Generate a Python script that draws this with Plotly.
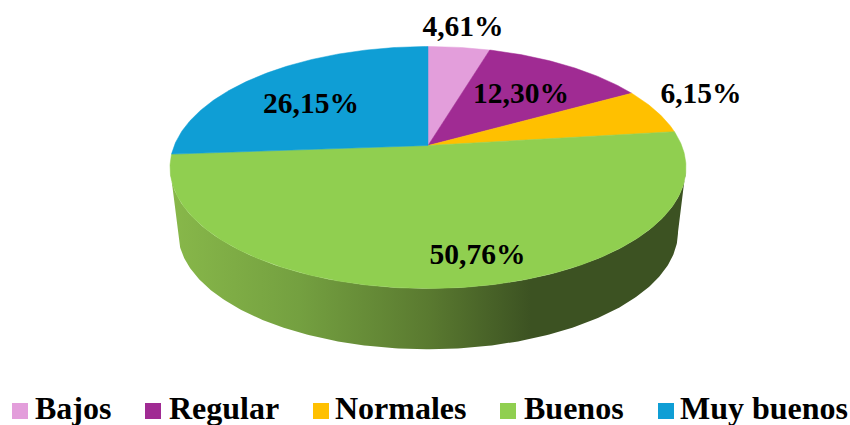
import numpy as np
import plotly.graph_objects as go

categories = ["Bajos", "Regular", "Normales", "Buenos", "Muy buenos"]
values = [4.61, 12.30, 6.15, 50.76, 26.15]
colors = ["#E39EDB", "#A02B93", "#FFC000", "#90CF50", "#0F9ED5"]
label_x = [463, 521, 701, 477.5, 311]
label_y = [29, 96, 96, 257, 105.5]
legend_x = [20, 153, 321, 508, 666]
legend_text_x = [35, 169, 335, 524, 680]

# Projection of the circular pie on to the tilted plane
CX, CY, R, Q, K = 428, 145.5, 253.7, 117, 0.182
RIM_YC, SHRINK, LOW_YC = 167, 0.969, 231.5


def rim(theta):
    d = 1 + K * np.cos(theta)
    return CX + R * np.sin(theta) / d, CY - Q * np.cos(theta) / d


fig = go.Figure()

# Side wall with lighting gradient
th = np.linspace(np.pi / 2 + np.arcsin(K), 3 * np.pi / 2 - np.arcsin(K), 240)
ux, uy = rim(th)
lx = CX + SHRINK * (ux - CX)
ly = LOW_YC + SHRINK * (uy - RIM_YC)
fig.add_trace(go.Scatter(
    x=np.r_[ux, lx[::-1]], y=np.r_[uy, ly[::-1]],
    mode="lines", line=dict(width=0), fill="toself",
    fillgradient=dict(type="horizontal", colorscale=[
        [0.0, "#88B84A"], [0.25, "#74A040"], [0.5, "#5A7A30"],
        [0.70, "#3C5222"], [1.0, "#3C5222"]]),
    hoverinfo="skip", showlegend=False))

# Top face
total = sum(values)
start = 0.0
for name, v, c in zip(categories, values, colors):
    end = start + v / total * 2 * np.pi
    t = np.linspace(start, end, max(4, int(v * 6)))
    x, y = rim(t)
    fig.add_trace(go.Scatter(
        x=np.r_[CX, x, CX], y=np.r_[CY, y, CY], mode="lines",
        line=dict(width=0.5, color=c), fill="toself", fillcolor=c,
        name=name, showlegend=False, hoverinfo="name"))
    start = end

# Value labels
fig.add_trace(go.Scatter(
    x=label_x, y=label_y, mode="text",
    text=[f"{v:.2f}%".replace(".", ",") for v in values],
    textposition="middle center",
    textfont=dict(family="Liberation Serif", size=29.5, color="#000000", weight="bold"),
    hoverinfo="skip", showlegend=False))

# Legend
fig.add_trace(go.Scatter(
    x=legend_x, y=[411] * 5, mode="markers",
    marker=dict(symbol="square", size=16, color=colors, line=dict(width=0)),
    hoverinfo="skip", showlegend=False))
fig.add_trace(go.Scatter(
    x=legend_text_x, y=[411] * 5, mode="text", text=categories,
    textposition="middle right",
    textfont=dict(family="Liberation Serif", size=32, color="#000000", weight="bold"),
    hoverinfo="skip", showlegend=False, cliponaxis=False))

fig.update_layout(
    width=850, height=425, margin=dict(l=0, r=0, t=0, b=0),
    paper_bgcolor="white", plot_bgcolor="white",
    xaxis=dict(range=[0, 850], visible=False, fixedrange=True),
    yaxis=dict(range=[425, 0], visible=False, fixedrange=True),
)
fig.write_html("out.html", config={"displayModeBar": False},
               post_script="document.body.style.margin='0';document.documentElement.style.overflow='hidden';")
